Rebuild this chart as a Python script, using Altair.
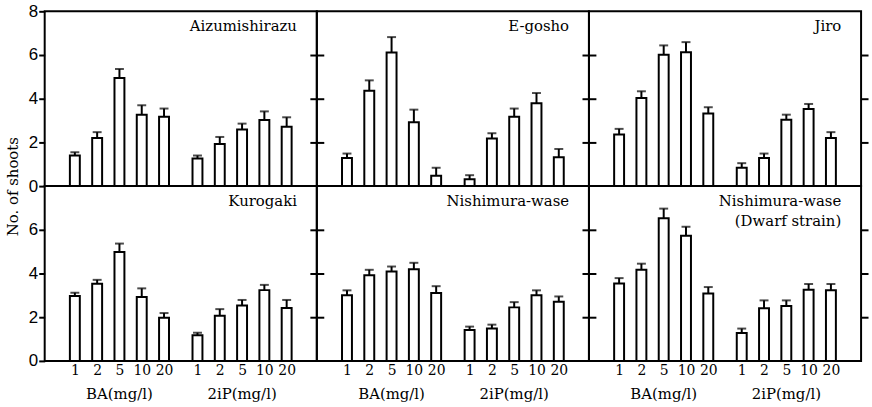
import altair as alt
import pandas as pd

# ---------------- data ----------------
names = ["Aizumishirazu", "E-gosho", "Jiro", "Kurogaki", "Nishimura-wase",
         "Nishimura-wase\n(Dwarf strain)"]
conc_labels = ["1", "2", "5", "10", "20"]
group_labels = ["BA(mg/l)", "2iP(mg/l)"]

aizu_ba = [1.40, 2.20, 4.95, 3.27, 3.18]
aizu_ba_se = [0.15, 0.27, 0.41, 0.43, 0.37]
aizu_ip = [1.26, 1.93, 2.59, 3.03, 2.72]
aizu_ip_se = [0.14, 0.32, 0.27, 0.39, 0.43]

egosho_ba = [1.29, 4.37, 6.12, 2.92, 0.47]
egosho_ba_se = [0.20, 0.47, 0.70, 0.58, 0.37]
egosho_ip = [0.31, 2.18, 3.18, 3.79, 1.32]
egosho_ip_se = [0.19, 0.24, 0.37, 0.47, 0.38]

jiro_ba = [2.36, 4.03, 6.01, 6.13, 3.32]
jiro_ba_se = [0.26, 0.31, 0.43, 0.46, 0.29]
jiro_ip = [0.84, 1.29, 3.04, 3.53, 2.20]
jiro_ip_se = [0.21, 0.20, 0.23, 0.23, 0.27]

kuro_ba = [2.97, 3.53, 4.99, 2.92, 1.98]
kuro_ba_se = [0.15, 0.18, 0.38, 0.40, 0.21]
kuro_ip = [1.17, 2.07, 2.54, 3.24, 2.42]
kuro_ip_se = [0.12, 0.30, 0.25, 0.24, 0.37]

nishi_ba = [3.00, 3.92, 4.09, 4.20, 3.11]
nishi_ba_se = [0.23, 0.25, 0.23, 0.29, 0.31]
nishi_ip = [1.42, 1.48, 2.45, 3.00, 2.71]
nishi_ip_se = [0.15, 0.18, 0.24, 0.23, 0.24]

dwarf_ba = [3.54, 4.17, 6.53, 5.73, 3.09]
dwarf_ba_se = [0.25, 0.28, 0.44, 0.41, 0.29]
dwarf_ip = [1.28, 2.41, 2.51, 3.26, 3.23]
dwarf_ip_se = [0.20, 0.36, 0.26, 0.26, 0.29]

series = [
    (aizu_ba, aizu_ba_se, aizu_ip, aizu_ip_se),
    (egosho_ba, egosho_ba_se, egosho_ip, egosho_ip_se),
    (jiro_ba, jiro_ba_se, jiro_ip, jiro_ip_se),
    (kuro_ba, kuro_ba_se, kuro_ip, kuro_ip_se),
    (nishi_ba, nishi_ba_se, nishi_ip, nishi_ip_se),
    (dwarf_ba, dwarf_ba_se, dwarf_ip, dwarf_ip_se),
]

# ---------------- layout ----------------
W, H = 274, 176
SERIF = "DejaVu Serif"
SANS = "Liberation Sans"
GAP = 1.5
pos_ba = [float(i) for i in range(len(conc_labels))]
pos_ip = [i + len(conc_labels) - 1 + GAP for i in range(len(conc_labels))]
positions = pos_ba + pos_ip
xscale = alt.Scale(domain=[-1.13, 10.63], nice=False, zero=False)
yscale = alt.Scale(domain=[0, 8], nice=False)

label_list = "[" + ",".join("'%s'" % c for c in conc_labels) + "]"
label_expr = (f"{label_list}[round(datum.value < {len(conc_labels)} ? datum.value : "
              f"datum.value - {pos_ip[0]})]")


def panel(i):
    row, col = divmod(i, 3)
    ba, ba_se, ip, ip_se = series[i]
    means = ba + ip
    ses = ba_se + ip_se
    df = pd.DataFrame({
        "pos": positions,
        "mean": means,
        "top": [m + s for m, s in zip(means, ses)],
    })
    base = alt.Chart(df)

    if row == 1:
        xaxis = alt.Axis(values=positions, labelExpr=label_expr, ticks=False,
                         domain=False, grid=False, title=None, labelFont=SERIF,
                         labelFontSize=14, labelPadding=3, labelAngle=0)
    else:
        xaxis = None

    if col == 0:
        vals = [0, 2, 4, 6, 8] if row == 0 else [0, 2, 4, 6]
        kw = dict(values=vals, tickSize=6, labelPadding=1, domain=False, grid=False,
                  labelFont=SANS, labelFontSize=17)
        if row == 0:
            leftaxis = alt.Axis(title="No. of shoots", titleAngle=270, titleX=-32,
                                titleY=H, titleAlign="center", titleBaseline="middle",
                                titleFont=SERIF, titleFontSize=15,
                                titleFontWeight="normal", **kw)
        else:
            leftaxis = alt.Axis(title=None, **kw)
    else:
        leftaxis = alt.Axis(values=[2, 4, 6], labels=False, tickSize=7,
                            domain=False, grid=False, title=None)
    rightaxis = alt.Axis(orient="right", values=[2, 4, 6], labels=False, tickSize=7,
                         domain=False, grid=False, title=None)

    bars = base.mark_bar(size=10, fill="white", stroke="black", strokeWidth=2).encode(
        x=alt.X("pos:Q", scale=xscale, axis=xaxis),
        y=alt.Y("mean:Q", scale=yscale, axis=leftaxis),
    )
    err = base.mark_rule(color="black", strokeWidth=2).encode(
        x=alt.X("pos:Q", scale=xscale, axis=xaxis),
        y=alt.Y("mean:Q", scale=yscale, axis=rightaxis),
        y2="top:Q",
    )
    cap = base.mark_tick(orient="horizontal", size=9, thickness=2, color="black").encode(
        x=alt.X("pos:Q", scale=xscale, axis=xaxis),
        y=alt.Y("top:Q", scale=yscale, axis=None),
    )
    name = alt.Chart(pd.DataFrame({"name": [names[i]]})).mark_text(
        align="right", baseline="top", font=SERIF, fontSize=15, lineBreak="\n",
        color="black", lineHeight=20,
    ).encode(x=alt.value(W - 20), y=alt.value(8), text="name:N")

    layers = [bars, err, cap, name]
    if row == 1:
        gdf = pd.DataFrame({
            "group": group_labels,
            "pos": [sum(pos_ba) / len(pos_ba), sum(pos_ip) / len(pos_ip)],
        })
        glab = alt.Chart(gdf).mark_text(font=SERIF, fontSize=15, baseline="middle",
                                        color="black").encode(
            x=alt.X("pos:Q", scale=xscale, axis=xaxis),
            y=alt.value(H + 33),
            text="group:N",
        )
        layers.append(glab)

    return alt.layer(*layers).resolve_axis(y="independent").properties(width=W, height=H)


chart = alt.concat(*[panel(i) for i in range(6)], columns=3, spacing=0, bounds="flush")
chart = chart.properties(padding={"left": 5, "top": 0, "right": 2, "bottom": 2}).configure_view(
    stroke="black", strokeWidth=2
).configure_axis(
    tickColor="black", tickWidth=2, labelColor="black", titleColor="black"
)

chart.save("out.html", embed_options={"renderer": "svg", "actions": False})
